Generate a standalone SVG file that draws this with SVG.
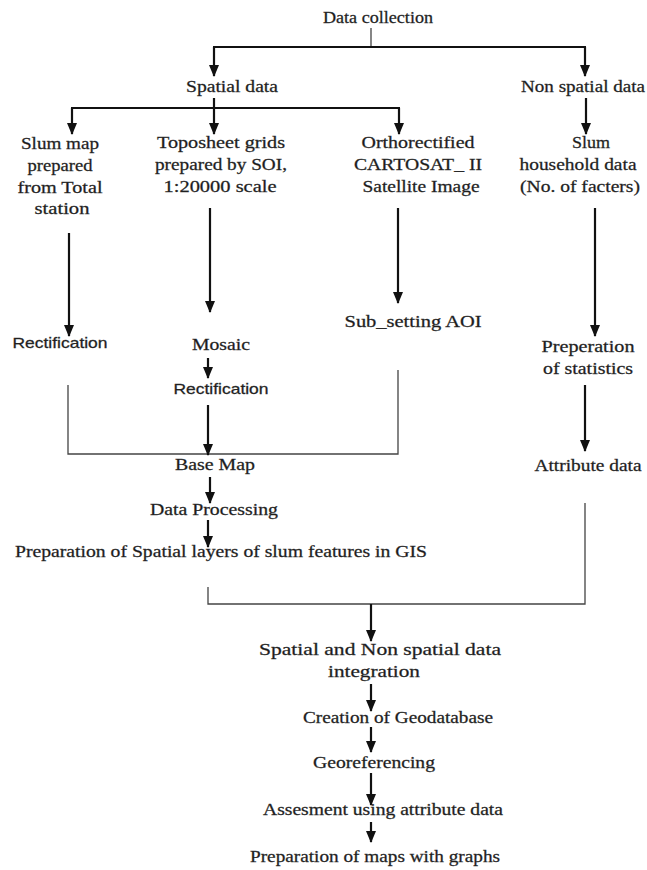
<svg xmlns="http://www.w3.org/2000/svg" width="647" height="870" viewBox="0 0 647 870">
<defs>
<marker id="ah" markerUnits="userSpaceOnUse" markerWidth="12" markerHeight="10" refX="11" refY="5" orient="auto" viewBox="0 0 12 10">
<path d="M0,0 L12,5 L0,10 Z" fill="#111"/>
</marker>
</defs>
<style>
text{font-family:"Liberation Serif","Times New Roman",serif;font-size:17px;fill:#1a1a1a;stroke:#333;stroke-width:0.3;text-anchor:middle}
.sans{font-family:"Liberation Sans",Arial,sans-serif;font-size:15px}
.thick{stroke:#111;stroke-width:2.2;fill:none}
.thin{stroke:#444;stroke-width:1.3;fill:none}
.arr{stroke:#111;stroke-width:2.2;fill:none;marker-end:url(#ah)}
</style>
<rect width="647" height="870" fill="#fff"/>
<g id="connectors">
<line class="thin" x1="371" y1="28" x2="371" y2="47"/>
<line class="thick" x1="213" y1="47" x2="586" y2="47"/>
<line class="arr" x1="214" y1="47" x2="214" y2="76"/>
<line class="arr" x1="585" y1="47" x2="585" y2="76"/>
<line class="thick" x1="214" y1="98" x2="214" y2="108"/>
<line class="thick" x1="71" y1="108" x2="400" y2="108"/>
<line class="arr" x1="72" y1="108" x2="72" y2="134"/>
<line class="arr" x1="214" y1="108" x2="214" y2="134"/>
<line class="arr" x1="399" y1="108" x2="399" y2="134"/>
<line class="arr" x1="586" y1="98" x2="586" y2="134"/>
<line class="arr" x1="69" y1="233" x2="69" y2="336"/>
<line class="arr" x1="210" y1="208" x2="210" y2="312"/>
<line class="arr" x1="398" y1="208" x2="398" y2="303"/>
<line class="arr" x1="595" y1="208" x2="595" y2="336"/>
<line class="arr" x1="208" y1="358" x2="208" y2="378"/>
<polyline class="thin" points="68,385 68,454 398,454 398,370"/>
<line class="arr" x1="208" y1="405" x2="208" y2="455"/>
<line class="arr" x1="585" y1="385" x2="585" y2="451"/>
<line class="arr" x1="210" y1="477" x2="210" y2="503"/>
<line class="arr" x1="208" y1="520" x2="208" y2="547"/>
<polyline class="thin" points="208,587 208,604 585,604 585,503"/>
<line class="arr" x1="371" y1="604" x2="371" y2="641"/>
<line class="arr" x1="371" y1="684" x2="371" y2="711"/>
<line class="arr" x1="371" y1="727" x2="371" y2="752"/>
<line class="arr" x1="371" y1="773" x2="371" y2="805"/>
<line class="arr" x1="371" y1="822" x2="371" y2="842"/>
</g>
<g id="data-collection"><text x="378" y="23" textLength="110" lengthAdjust="spacingAndGlyphs">Data collection</text></g>
<g id="spatial-data"><text x="232" y="92" textLength="92" lengthAdjust="spacingAndGlyphs">Spatial data</text></g>
<g id="non-spatial-data"><text x="583" y="92" textLength="124" lengthAdjust="spacingAndGlyphs">Non spatial data</text></g>
<g id="slum-map">
<text x="60" y="149" textLength="78" lengthAdjust="spacingAndGlyphs">Slum map</text>
<text x="60" y="171" textLength="65" lengthAdjust="spacingAndGlyphs">prepared</text>
<text x="60" y="193" textLength="85" lengthAdjust="spacingAndGlyphs">from Total</text>
<text x="62" y="214" textLength="55" lengthAdjust="spacingAndGlyphs">station</text>
</g>
<g id="toposheet">
<text x="221" y="148" textLength="128" lengthAdjust="spacingAndGlyphs">Toposheet grids</text>
<text x="221" y="170" textLength="132" lengthAdjust="spacingAndGlyphs">prepared by SOI,</text>
<text x="220" y="192" textLength="113" lengthAdjust="spacingAndGlyphs">1:20000 scale</text>
</g>
<g id="cartosat">
<text x="418" y="148" textLength="113" lengthAdjust="spacingAndGlyphs">Orthorectified</text>
<text x="418" y="170" textLength="128" lengthAdjust="spacingAndGlyphs">CARTOSAT_ II</text>
<text x="421" y="192" textLength="117" lengthAdjust="spacingAndGlyphs">Satellite Image</text>
</g>
<g id="household">
<text x="591" y="148" textLength="38" lengthAdjust="spacingAndGlyphs">Slum</text>
<text x="578" y="170" textLength="117" lengthAdjust="spacingAndGlyphs">household data</text>
<text x="580" y="192" textLength="120" lengthAdjust="spacingAndGlyphs">(No. of facters)</text>
</g>
<g id="rectification-1"><text class="sans" x="60" y="348" textLength="95" lengthAdjust="spacingAndGlyphs">Rectification</text></g>
<g id="mosaic"><text x="221" y="350" textLength="58" lengthAdjust="spacingAndGlyphs">Mosaic</text></g>
<g id="sub-setting"><text x="413" y="327" textLength="137" lengthAdjust="spacingAndGlyphs">Sub_setting  AOI</text></g>
<g id="statistics">
<text x="588" y="352" textLength="93" lengthAdjust="spacingAndGlyphs">Preperation</text>
<text x="588" y="374" textLength="90" lengthAdjust="spacingAndGlyphs">of statistics</text>
</g>
<g id="rectification-2"><text class="sans" x="221" y="394" textLength="95" lengthAdjust="spacingAndGlyphs">Rectification</text></g>
<g id="base-map"><text x="215" y="470" textLength="80" lengthAdjust="spacingAndGlyphs">Base Map</text></g>
<g id="attribute-data"><text x="588" y="471" textLength="107" lengthAdjust="spacingAndGlyphs">Attribute data</text></g>
<g id="data-processing"><text x="214" y="515" textLength="128" lengthAdjust="spacingAndGlyphs">Data Processing</text></g>
<g id="spatial-layers"><text x="221" y="557" textLength="412" lengthAdjust="spacingAndGlyphs">Preparation of Spatial layers of slum features in GIS</text></g>
<g id="integration">
<text x="380" y="655" textLength="242" lengthAdjust="spacingAndGlyphs">Spatial and Non spatial data</text>
<text x="374" y="677" textLength="92" lengthAdjust="spacingAndGlyphs">integration</text>
</g>
<g id="geodatabase"><text x="398" y="723" textLength="190" lengthAdjust="spacingAndGlyphs">Creation of Geodatabase</text></g>
<g id="georeferencing"><text x="374" y="768" textLength="122" lengthAdjust="spacingAndGlyphs">Georeferencing</text></g>
<g id="assesment"><text x="383" y="815" textLength="240" lengthAdjust="spacingAndGlyphs">Assesment using attribute data</text></g>
<g id="maps-graphs"><text x="375" y="862" textLength="250" lengthAdjust="spacingAndGlyphs">Preparation of maps with graphs</text></g>
</svg>
